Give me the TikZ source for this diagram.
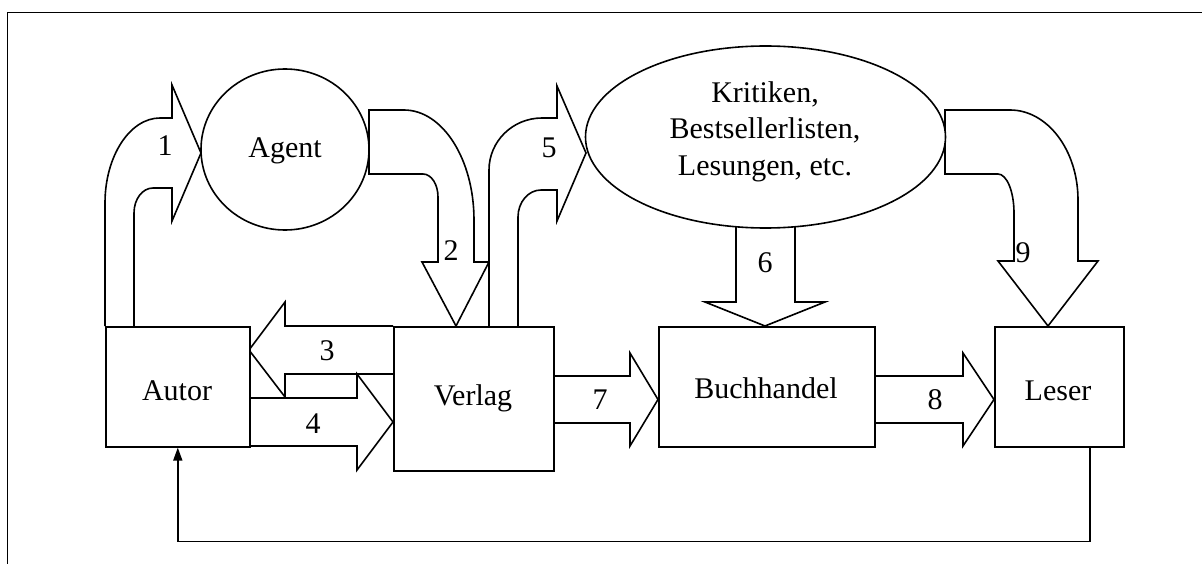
\documentclass[tikz,border=0pt]{standalone}
\usepackage{fontspec}
\setmainfont{Liberation Serif}
\usetikzlibrary{shapes.geometric,arrows.meta}
\begin{document}
\begin{tikzpicture}[x=1pt,y=-1pt,line width=1.6pt,line join=miter,
  every node/.style={font=\fontsize{30}{36.5}\selectfont,inner sep=0pt},
  block/.style={draw,fill=white,rectangle,anchor=north west},
  fat/.style={draw,fill=white},
  num/.style={anchor=base}]
\useasboundingbox (0,0) rectangle (1202,564);
% outer frame
\draw[line width=1.5pt] (1202,12.5) -- (7.5,12.5) -- (7.5,564);

% block arrows
% 1: Autor -> Agent
\draw[fat] (105,326) -- (105,203) .. controls (105,156) and (130,118) .. (160,118)
  -- (172,118) -- (172,85) -- (201,153) -- (172,221) -- (172,188) -- (153,188)
  .. controls (142.5,188) and (134,199) .. (134,213) -- (134,326);
% 2: Agent -> Verlag
\draw[fat] (369,110) -- (404,110) .. controls (442.6,110) and (474,159.3) .. (474,220)
  -- (474,262) -- (489,262) -- (456,326) -- (422,262) -- (438,262) -- (438,197)
  .. controls (438,184.3) and (431.3,174) .. (423,174) -- (369,174) -- cycle;
% 3: Verlag -> Autor
\draw[fat] (393,326) -- (285,326) -- (285,302) -- (249,350) -- (285,397) -- (285,374) -- (393,374);
% 4: Autor -> Verlag
\draw[fat] (249,398) -- (357,398) -- (357,374) -- (393,422) -- (357,470) -- (357,446) -- (249,446);
% 5: Verlag -> Kritiken
\draw[fat] (489,326) -- (489,170) .. controls (489,141.3) and (512.7,118) .. (542,118)
  -- (557,118) -- (557,86) -- (586,153) -- (557,221) -- (557,190) -- (541,190)
  .. controls (528.3,190) and (518,202.1) .. (518,217) -- (518,326);
% 6: Kritiken -> Buchhandel
\draw[fat] (736,224) -- (736,302) -- (705,302) -- (765,326) -- (825,302) -- (795,302) -- (795,224);
% 7: Verlag -> Buchhandel
\draw[fat] (553,376) -- (630,376) -- (630,353) -- (658,399.5) -- (630,446) -- (630,423) -- (553,423);
% 8: Buchhandel -> Leser
\draw[fat] (874,376) -- (963,376) -- (963,353) -- (994,399.5) -- (963,446) -- (963,423) -- (874,423);
% 9: Kritiken -> Leser
\draw[fat] (945,110) -- (1010,110) .. controls (1047.5,110) and (1078,150.3) .. (1078,200)
  -- (1078,261) -- (1098,261) -- (1048,326) -- (998,261) -- (1014,261) -- (1014,213)
  .. controls (1014,191.5) and (1006.8,174) .. (998,174) -- (945,174) -- cycle;

% boxes and their texts
\node[block,minimum width=144pt,minimum height=120pt] (autor) at (105,326) {};
\node[anchor=base] (autortext) at (177,400) {Autor};
\node[block,minimum width=160pt,minimum height=144pt] (verlag) at (393,326) {};
\node[anchor=base] (verlagtext) at (473,405) {Verlag};
\node[block,minimum width=216pt,minimum height=120pt] (buch) at (658,326) {};
\node[anchor=base] (buchtext) at (766,398) {Buchhandel};
\node[block,minimum width=129pt,minimum height=120pt] (leser) at (994,326) {};
\node[anchor=base] (lesertext) at (1058,400) {Leser};
\node[draw,fill=white,ellipse,minimum width=168pt,minimum height=161pt] (agent) at (285,149.5) {};
\node[anchor=base] (agenttext) at (285,158) {Agent};
\node[draw,fill=white,ellipse,minimum width=360pt,minimum height=182pt] (kritik) at (765.5,137) {};
\node[align=center] (kritiktext) at (765,131.5) {Kritiken,\\Bestsellerlisten,\\Lesungen, etc.};

% numbers
\node[num] (n1) at (165,156) {1};
\node[num] (n2) at (451,261) {2};
\node[num] (n3) at (327,360) {3};
\node[num] (n4) at (313,433) {4};
\node[num] (n5) at (549,158) {5};
\node[num] (n6) at (765,272) {6};
\node[num] (n7) at (600,409) {7};
\node[num] (n8) at (935,409) {8};
\node[num] (n9) at (1023,262) {9};

% feedback from Leser to Autor
\draw[-{Triangle[length=13pt,width=9pt]}] ([xshift=30.5pt]leser.south) -- ++(0,94) -| (autor.south);
\end{tikzpicture}
\end{document}
